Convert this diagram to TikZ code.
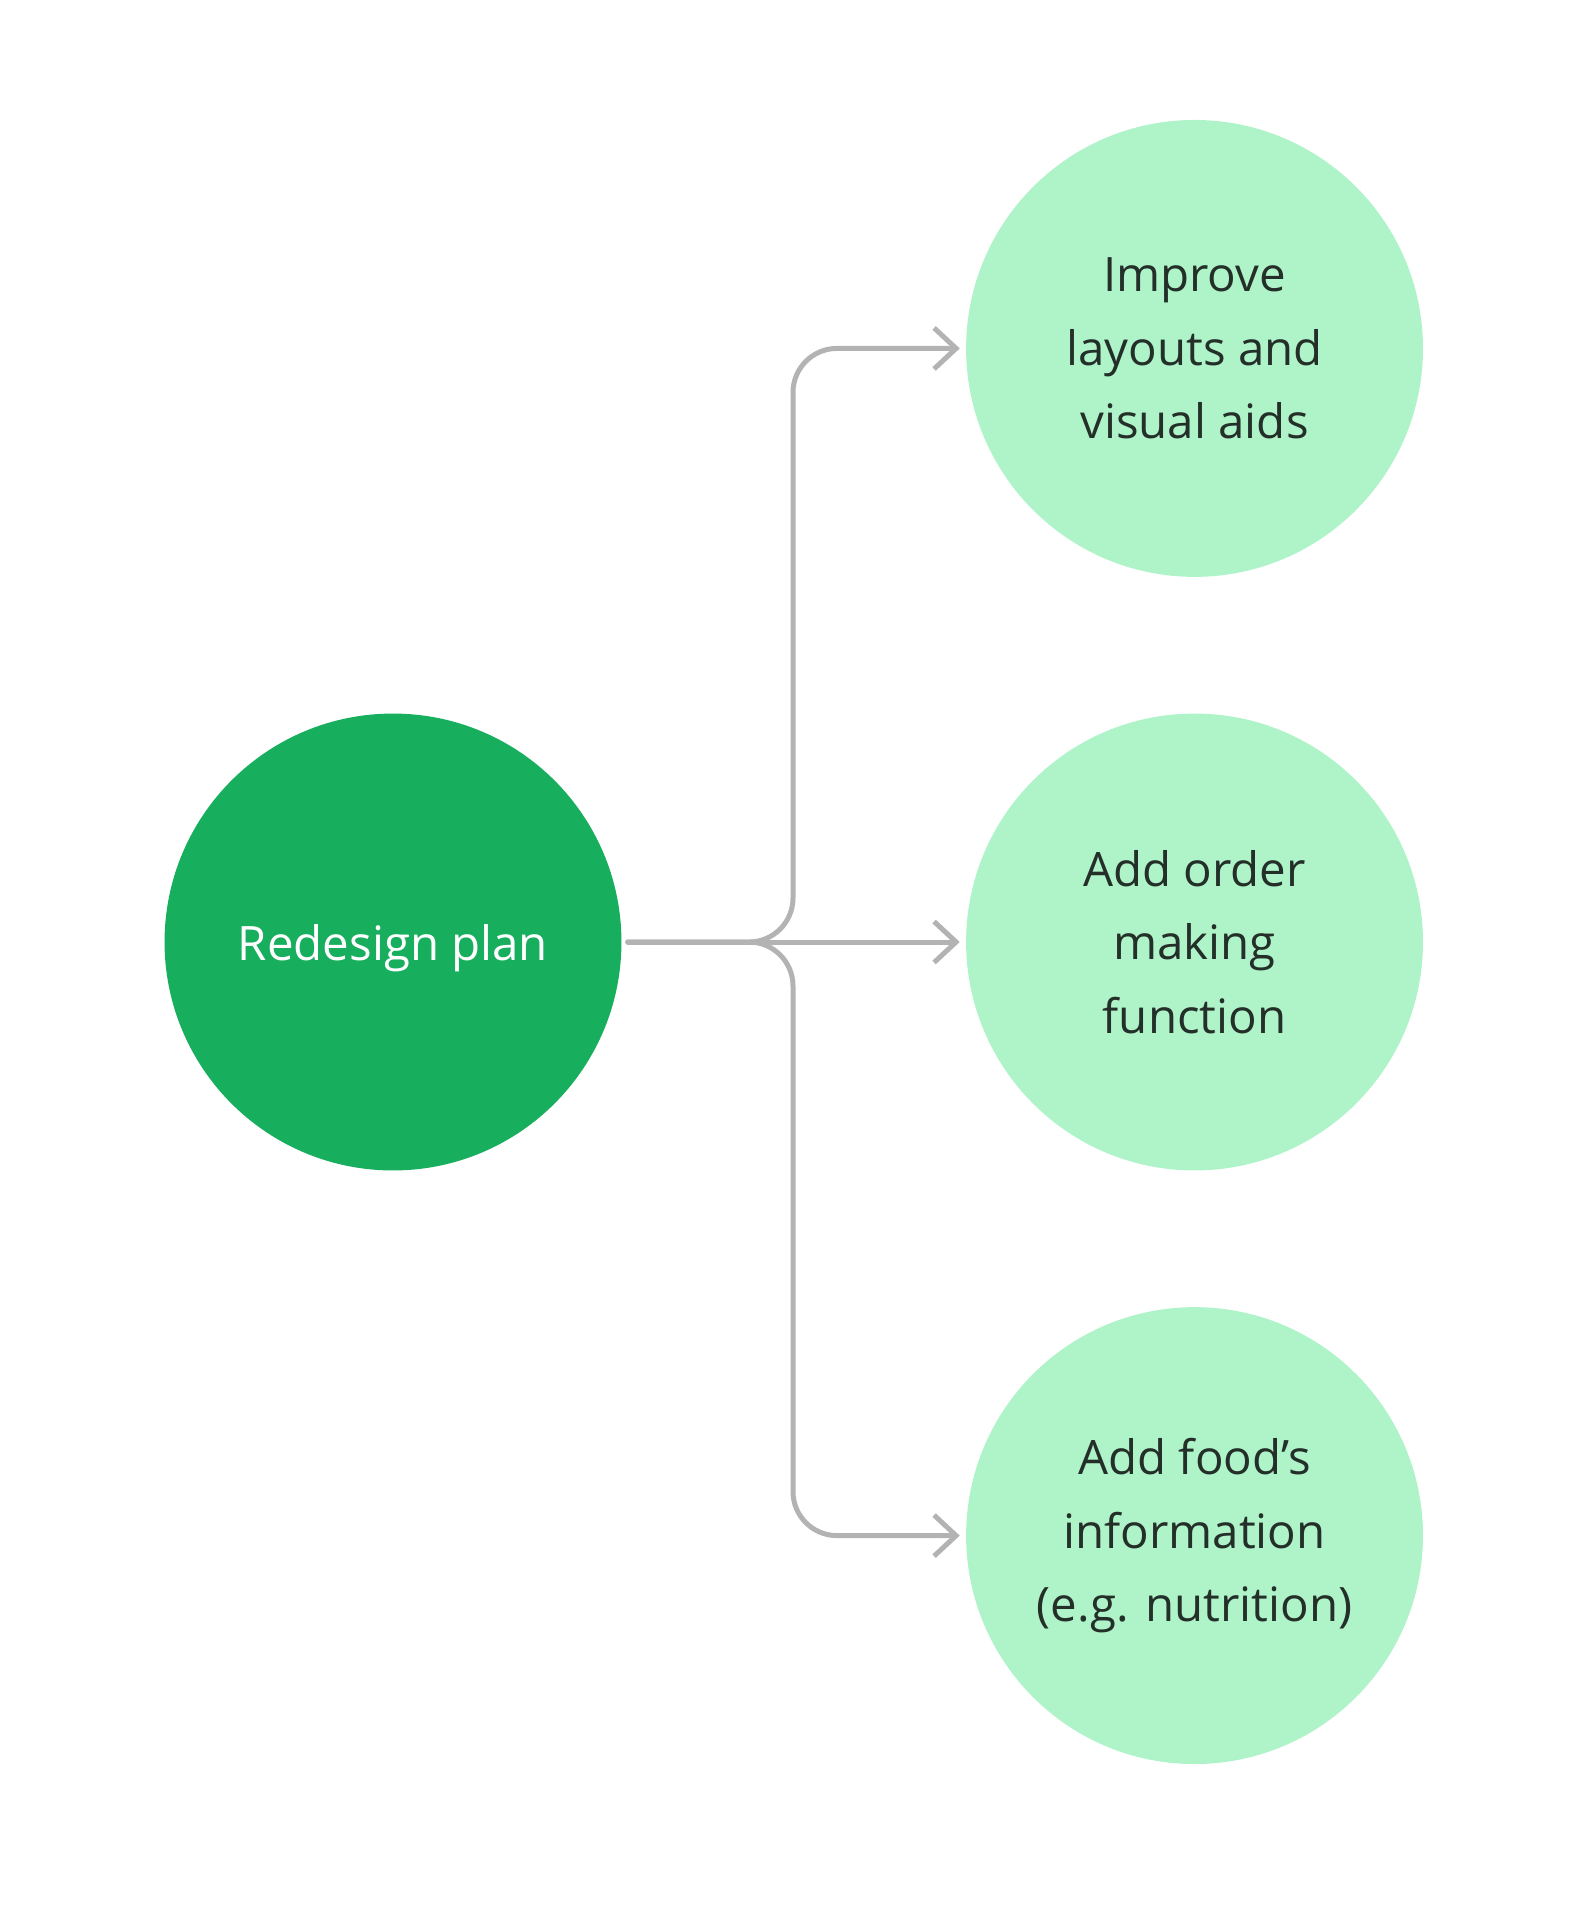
\documentclass[tikz,border=0pt]{standalone}
\usepackage{fontspec}
\setmainfont{Open Sans}
\usepackage{tikz}
\usetikzlibrary{arrows.meta,positioning}
\definecolor{plangreen}{HTML}{17AE5E}
\definecolor{stepgreen}{HTML}{AFF4C9}
\definecolor{linkgrey}{HTML}{B3B3B3}
\definecolor{textdark}{HTML}{232F28}

\begin{document}
\begin{tikzpicture}[
  x=0.02cm, y=-0.02cm,
  hub/.style={circle, minimum size=9.14cm, inner sep=0pt, fill=plangreen, text=white, text depth=0pt, font=\fontsize{27}{42}\selectfont},
  goal/.style={circle, minimum size=9.14cm, inner sep=0pt, fill=stepgreen, text=textdark, align=center, font=\fontsize{27}{42}\selectfont},
  link/.style={-{Straight Barb[length=0.44cm, width=0.82cm]}, line width=0.1cm, draw=linkgrey, line cap=round, rounded corners=0.88cm, shorten <=0.12cm, shorten >=0.12cm}
]
\useasboundingbox (0,0) rectangle (1584,1908);

\node[hub] (plan) at (393,942) {Redesign plan};
\node[goal, right=6.88cm of plan] (order) {Add order\\making\\function};
\node[goal, above=2.72cm of order] (layout) {Improve\\layouts and\\visual aids};
\node[goal, below=2.72cm of order] (food) {Add food’s\\information\\(e.g. nutrition)};

\coordinate (trunk) at (793,942);

\draw[link] (plan.east) -- (order.west);
\draw[link] (plan.east) -- (trunk) |- (layout.west);
\draw[link] (plan.east) -- (trunk) |- (food.west);
\end{tikzpicture}
\end{document}
